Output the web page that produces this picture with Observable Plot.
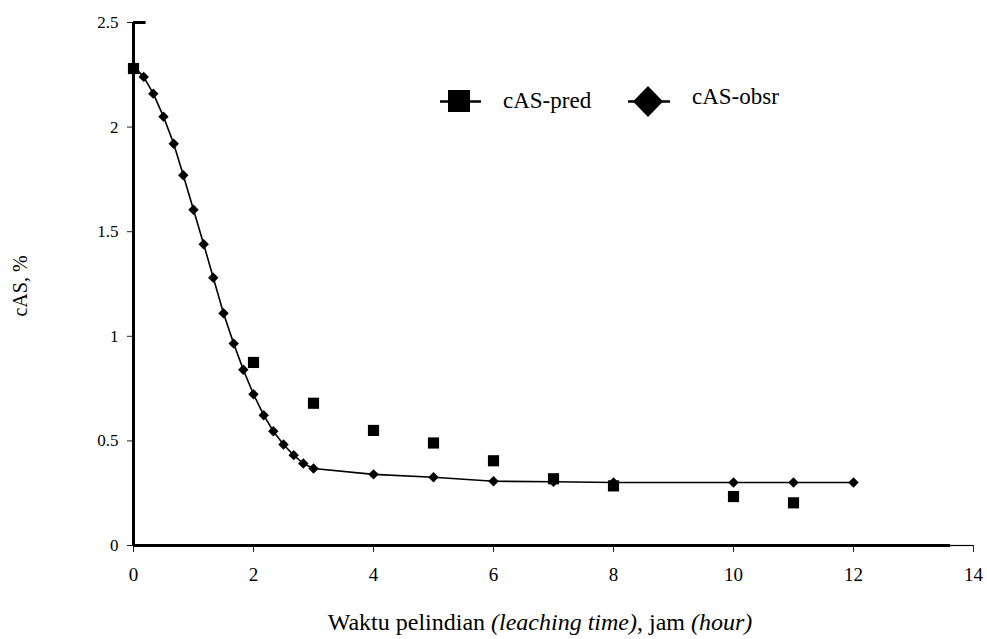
<!DOCTYPE html>
<html>
<head>
<meta charset="utf-8">
<script src="https://cdn.jsdelivr.net/npm/d3@7"></script>
<script src="https://cdn.jsdelivr.net/npm/@observablehq/plot@0.6"></script>
<style>
  html, body { margin: 0; padding: 0; background: #fff; }
  #wrap { position: relative; width: 987px; height: 639px; overflow: hidden; font-family: "Liberation Serif", "Times New Roman", serif; color: #000; }
  #chart { position: absolute; left: 0; top: 0; }
  .ylab { position: absolute; left: 20px; top: 286px; transform: translate(-50%, -50%) rotate(-90deg); font-size: 20px; white-space: nowrap; }
  .xlab { position: absolute; left: 540px; top: 622px; transform: translate(-50%, -50%); font-size: 24px; white-space: nowrap; }
  #legend { position: absolute; left: 0; top: 0; }
  svg text { font-family: "Liberation Serif", "Times New Roman", serif; }
</style>
</head>
<body>
<div id="wrap">
  <div id="chart"></div>
  <div class="ylab">cAS, %</div>
  <div class="xlab">Waktu pelindian <i>(leaching time)</i>, jam <i>(hour)</i></div>
</div>
<script>
// ---- Data ----
const obsrTime = [0, 0.17, 0.33, 0.5, 0.67, 0.83, 1, 1.17, 1.33, 1.5, 1.67, 1.83, 2, 2.17, 2.33, 2.5, 2.67, 2.83, 3, 4, 5, 6, 7, 8, 10, 11, 12];
const obsrValue = [2.29, 2.24, 2.16, 2.05, 1.92, 1.77, 1.605, 1.44, 1.28, 1.11, 0.965, 0.84, 0.723, 0.623, 0.546, 0.483, 0.432, 0.392, 0.368, 0.34, 0.326, 0.307, 0.305, 0.301, 0.301, 0.301, 0.301];
const predTime = [0, 2, 3, 4, 5, 6, 7, 8, 10, 11];
const predValue = [2.28, 0.875, 0.68, 0.55, 0.49, 0.405, 0.319, 0.285, 0.234, 0.204];
const xTicks = [0, 2, 4, 6, 8, 10, 12, 14];
const yTicks = [0, 0.5, 1, 1.5, 2, 2.5];
const seriesNames = ["cAS-pred", "cAS-obsr"];

const obsr = obsrTime.map((t, i) => ({t, v: obsrValue[i]}));
const pred = predTime.map((t, i) => ({t, v: predValue[i]}));

const font = "'Liberation Serif', 'Times New Roman', serif";

const chart = Plot.plot({
  width: 987,
  height: 639,
  marginLeft: 133,
  marginRight: 14,
  marginTop: 22,
  marginBottom: 94,
  style: {fontFamily: font, background: "white", color: "black"},
  x: {domain: [0, 14]},
  y: {domain: [0, 2.5]},
  marks: [
    Plot.axisX({ticks: xTicks, tickSize: 7, tickPadding: 15, fontSize: 19, tickFormat: d => String(d), label: null, stroke: "#222"}),
    Plot.axisY({ticks: yTicks, tickSize: 6, tickPadding: 9, fontSize: 17, tickFormat: d => String(d), label: null, stroke: "#222"}),
    // axis lines (thick, as in the reference)
    Plot.ruleX([0], {y1: 0, y2: 2.5, stroke: "black", strokeWidth: 3}),
    Plot.ruleY([2.5], {x1: 0, x2: 0.21, stroke: "black", strokeWidth: 3}),
    Plot.ruleY([0], {x1: 0, x2: 13.62, stroke: "black", strokeWidth: 3}),
    Plot.ruleY([0], {x1: 13.62, x2: 14, stroke: "black", strokeWidth: 1.2}),
    // observed series: line + diamonds
    Plot.line(obsr, {x: "t", y: "v", stroke: "black", strokeWidth: 1.6}),
    Plot.dot(obsr, {x: "t", y: "v", symbol: "diamond2", r: 4.7, fill: "black", stroke: "none"}),
    // predicted series: squares
    Plot.dot(pred, {x: "t", y: "v", symbol: "square", r: 6.3, fill: "black", stroke: "none"})
  ]
});
document.getElementById("chart").appendChild(chart);

// ---- Legend (inside plot area, as in the reference) ----
const leg = d3.select("#wrap").append("svg")
  .attr("id", "legend").attr("width", 987).attr("height", 639)
  .style("pointer-events", "none");
const g1 = leg.append("g");
g1.append("line").attr("x1", 440).attr("x2", 481).attr("y1", 101.5).attr("y2", 101.5).attr("stroke", "black").attr("stroke-width", 2.5);
g1.append("rect").attr("x", 448).attr("y", 90).attr("width", 22).attr("height", 22).attr("fill", "black");
g1.append("text").attr("x", 503).attr("y", 108).attr("font-size", 23).text(seriesNames[0]);
const g2 = leg.append("g");
g2.append("line").attr("x1", 628).attr("x2", 670).attr("y1", 101.5).attr("y2", 101.5).attr("stroke", "black").attr("stroke-width", 2.5);
g2.append("path").attr("d", "M648,86 L663,101.5 L648,117 L633,101.5 Z").attr("fill", "black");
g2.append("text").attr("x", 692).attr("y", 104).attr("font-size", 23).text(seriesNames[1]);
</script>
</body>
</html>
